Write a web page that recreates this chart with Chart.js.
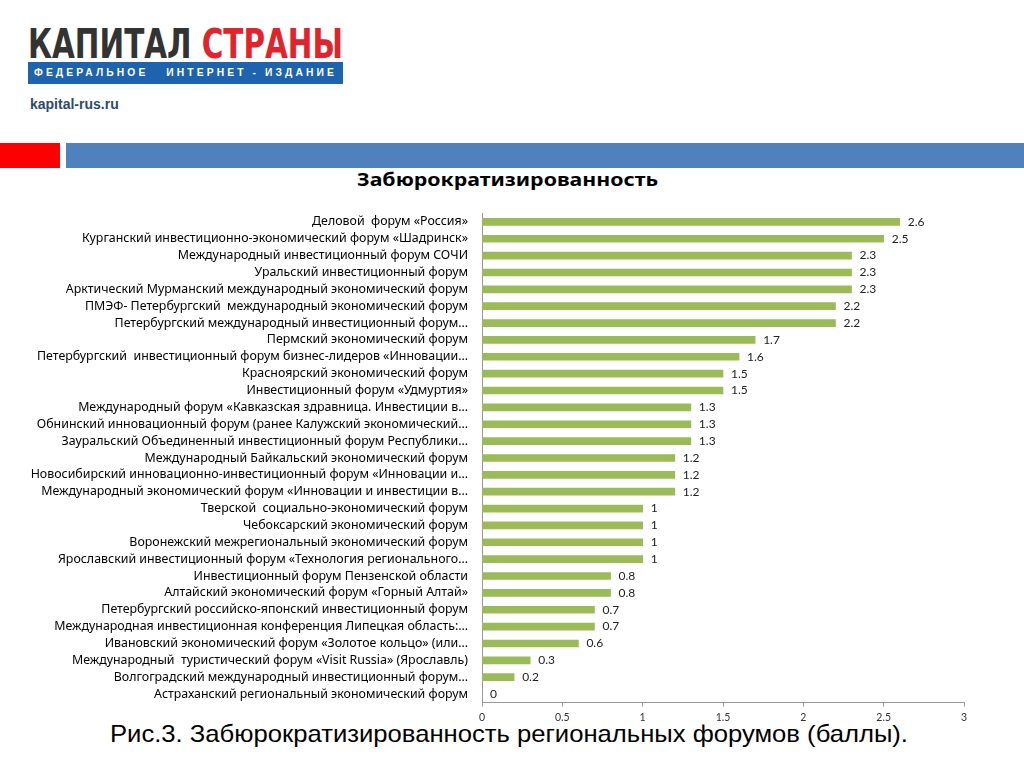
<!DOCTYPE html>
<html>
<head>
<meta charset="utf-8">
<script src="https://cdn.jsdelivr.net/npm/chart.js@4.4.1/dist/chart.umd.min.js"></script>
<style>
  body { margin:0; width:1024px; height:768px; background:#fff; position:relative; overflow:hidden; font-family:"Liberation Sans", Arial, sans-serif; }
  .abs { position:absolute; white-space:nowrap; transform-origin:0 0; }
  #logo1 { left:28px; top:22px; font-family:"DejaVu Sans Condensed","DejaVu Sans",sans-serif; font-weight:bold; font-size:40px; line-height:44px; color:#333; }
  #logo1 span { color:#e3232b; }
  #banner { left:28px; top:62px; width:315px; height:22px; background:#1e63ae; overflow:hidden; }
  #bantext { left:6px; top:0; color:#fff; font-weight:bold; font-size:10px; letter-spacing:3px; line-height:22px; }
  #site { left:30px; top:96px; font-weight:bold; font-size:14px; color:#2c4a70; }
  #redbar { left:0; top:143px; width:60px; height:25px; background:#fe0000; }
  #bluebar { left:66px; top:143px; width:958px; height:25px; background:#4f81bd; }
  #title { left:357px; top:167px; font-family:"Noto Sans",sans-serif; font-weight:bold; font-size:18px; color:#000; }
  #caption { left:110px; top:720px; font-family:"Liberation Sans Narrow","Liberation Sans",sans-serif; font-size:24px; color:#000; }
  #wrap { position:absolute; left:0; top:200px; width:1024px; height:528px; }
</style>
</head>
<body>
<div id="logo1" class="abs">КАПИТАЛ <span>СТРАНЫ</span></div>
<div id="banner" class="abs"><div id="bantext" class="abs">ФЕДЕРАЛЬНОЕ&nbsp;&nbsp; ИНТЕРНЕТ - ИЗДАНИЕ</div></div>
<div id="site" class="abs">kapital-rus.ru</div>
<div id="redbar" class="abs"></div>
<div id="bluebar" class="abs"></div>
<div id="title" class="abs">Забюрократизированность</div>
<div id="caption" class="abs">Рис.3. Забюрократизированность региональных форумов (баллы).</div>
<div id="wrap"><canvas id="chart1"></canvas></div>
<script>
var forums = [
  "Деловой  форум «Россия»",
  "Курганский инвестиционно-экономический форум «Шадринск»",
  "Международный инвестиционный форум СОЧИ",
  "Уральский инвестиционный форум",
  "Арктический Мурманский международный экономический форум",
  "ПМЭФ- Петербургский  международный экономический форум",
  "Петербургский международный инвестиционный форум…",
  "Пермский экономический форум",
  "Петербургский  инвестиционный форум бизнес-лидеров «Инновации…",
  "Красноярский экономический форум",
  "Инвестиционный форум «Удмуртия»",
  "Международный форум «Кавказская здравница. Инвестиции в…",
  "Обнинский инновационный форум (ранее Калужский экономический…",
  "Зауральский Объединенный инвестиционный форум Республики…",
  "Международный Байкальский экономический форум",
  "Новосибирский инновационно-инвестиционный форум «Инновации и…",
  "Международный экономический форум «Инновации и инвестиции в…",
  "Тверской  социально-экономический форум",
  "Чебоксарский экономический форум",
  "Воронежский межрегиональный экономический форум",
  "Ярославский инвестиционный форум «Технология регионального…",
  "Инвестиционный форум Пензенской области",
  "Алтайский экономический форум «Горный Алтай»",
  "Петербургский российско-японский инвестиционный форум",
  "Международная инвестиционная конференция Липецкая область:…",
  "Ивановский экономический форум «Золотое кольцо» (или…",
  "Международный  туристический форум «Visit Russia» (Ярославль)",
  "Волгоградский международный инвестиционный форум…",
  "Астраханский региональный экономический форум"
];
var scores = [2.6, 2.5, 2.3, 2.3, 2.3, 2.2, 2.2, 1.7, 1.6, 1.5, 1.5, 1.3, 1.3, 1.3, 1.2, 1.2, 1.2,
              1, 1, 1, 1, 0.8, 0.8, 0.7, 0.7, 0.6, 0.3, 0.2, 0];
var xTicks = [0, 0.5, 1, 1.5, 2, 2.5, 3];

// подгоняем ширину текста шапки и подписи под картинку
function fitWidth(id, w){
  var el = document.getElementById(id);
  var r = el.getBoundingClientRect().width;
  el.style.transform = "scaleX(" + (w / r) + ")";
}
fitWidth("logo1", 315);
fitWidth("bantext", 303);
fitWidth("title", 301);
fitWidth("caption", 798);

// подписи значений справа от столбцов
var valueLabels = {
  id: "valueLabels",
  afterDatasetsDraw: function(chart){
    var ctx = chart.ctx;
    var meta = chart.getDatasetMeta(0);
    ctx.save();
    ctx.font = "12px Lato, sans-serif";
    ctx.fillStyle = "#222";
    ctx.textBaseline = "middle";
    ctx.textAlign = "left";
    meta.data.forEach(function(bar, i){
      ctx.fillText(String(scores[i]), bar.x + 8, bar.y);
    });
    ctx.restore();
  }
};

var ctx = document.getElementById("chart1").getContext("2d");
var myChart = new Chart(ctx, {
  type: 'bar',
  data: {
    labels: forums,
    datasets: [{
      data: scores,
      backgroundColor: "#9bbb59",
      barThickness: 7
    }]
  },
  options: {
    indexAxis: 'y',
    responsive: true,
    maintainAspectRatio: false,
    animation: false,
    layout: { padding: { top: 10.5, right: 60, bottom: 0, left: 0 } },
    plugins: { legend: { display: false }, tooltip: { enabled: false } },
    scales: {
      x: {
        min: 0, max: 3,
        afterBuildTicks: function(axis){ axis.ticks = xTicks.map(function(v){ return { value: v }; }); },
        afterFit: function(axis){ axis.height = 25.5; },
        grid: { display: true, drawOnChartArea: false, drawTicks: true, tickLength: 4, color: "#999" },
        border: { display: true, color: "#999" },
        ticks: { font: { family: "Lato", size: 10.5 }, color: "#333", padding: 5,
                 callback: function(v){ return String(v); } }
      },
      y: {
        afterFit: function(axis){ axis.width = 482; },
        grid: { display: false },
        border: { display: true, color: "#999" },
        ticks: { font: { family: "Noto Sans", size: 12.4 }, color: "#000", padding: 6, autoSkip: false }
      }
    }
  },
  plugins: [valueLabels]
});
</script>
</body>
</html>
